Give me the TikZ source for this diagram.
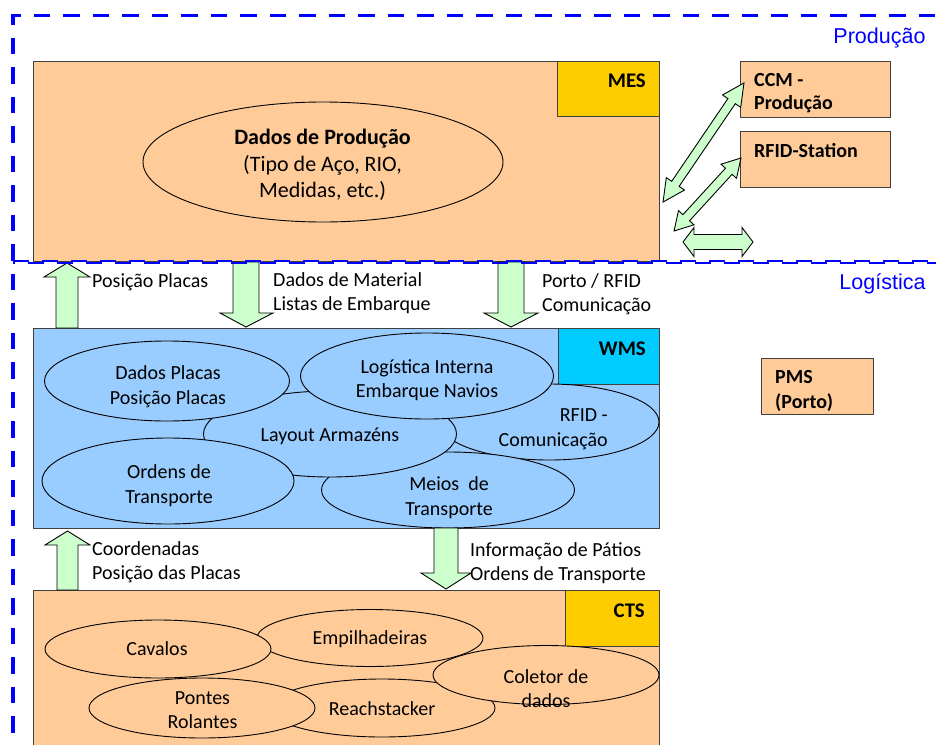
\documentclass[tikz,border=0pt]{standalone}
\usepackage{fontspec}
\setmainfont{Carlito}
\newfontfamily\arialf{Liberation Sans}
\usetikzlibrary{shapes.geometric}
\definecolor{peach}{HTML}{FFCC99}
\definecolor{gold}{HTML}{FFCC00}
\definecolor{wmsblue}{HTML}{99CCFF}
\definecolor{wmscyan}{HTML}{00CCFF}
\definecolor{arrowgreen}{HTML}{CCFFCC}
\definecolor{lineblue}{HTML}{0000FF}
\definecolor{boxline}{HTML}{404040}
\tikzset{
  sysbox/.style={draw=boxline, line width=1.3pt, rectangle, inner sep=0pt, anchor=north west},
  ell/.style={ellipse, draw=black, line width=0.9pt, inner sep=0pt},
  garrow/.style={draw=black, fill=arrowgreen, line width=0.9pt, line join=miter},
  lbl/.style={font=\fontsize{20}{24}\selectfont, inner sep=0pt, align=left, anchor=west},
  etxt/.style={font=\fontsize{20}{24.5}\selectfont, inner sep=0pt, align=center},
  sysname/.style={font=\bfseries\fontsize{20.8}{24}\selectfont, inner sep=0pt, anchor=east},
  extname/.style={font=\bfseries\fontsize{20}{22.5}\selectfont, inner sep=0pt, align=left, anchor=west},
  zone/.style={font=\arialf\fontsize{21.5}{24}\selectfont, text=lineblue, inner sep=0pt},
  pics/dbl/.style n args={4}{code={
    \draw[garrow] (-#1,0) -- ({-#1+#2},{-#3}) -- ({-#1+#2},{-#4}) -- ({#1-#2},{-#4})
      -- ({#1-#2},{-#3}) -- (#1,0) -- ({#1-#2},{#3}) -- ({#1-#2},{#4})
      -- ({-#1+#2},{#4}) -- ({-#1+#2},{#3}) -- cycle;
  }}
}
\begin{document}
\begin{tikzpicture}[x=1pt,y=-1pt]
\useasboundingbox (0,0) rectangle (936,744);
\clip (0,0) rectangle (936,744);

% ---------------- MES ----------------
\node[sysbox, fill=peach, minimum width=626, minimum height=200] (mes) at (33,61) {};
\node[sysbox, fill=gold, minimum width=102, minimum height=55] (meslbl) at (557,61) {};
\node[sysname] (mesname) at (646,81) {MES};
\node[ell, fill=peach, minimum width=360, minimum height=120] (dprod) at (323,162) {};
\node[font=\fontsize{22}{26.5}\selectfont, inner sep=0pt, align=center] (dprodtxt) at (322.5,165)
  {\textbf{Dados de Produção}\\(Tipo de Aço, RIO,\\Medidas, etc.)};

% external boxes
\node[sysbox, fill=peach, minimum width=150, minimum height=56] (ccm) at (740,61) {};
\node[extname] (ccmtxt) at (754,93) {CCM -\\Produção};
\node[sysbox, fill=peach, minimum width=150, minimum height=56] (rfidst) at (740,131) {};
\node[extname] (rfidsttxt) at (754,151) {RFID-Station};
\node[sysbox, fill=peach, minimum width=112, minimum height=56] (pms) at (761,358) {};
\node[extname, font=\bfseries\fontsize{20}{25}\selectfont] (pmstxt) at (775,391) {PMS\\(Porto)};

% double arrows to the right of MES
\pic[rotate=55.8] (da1) at (703.5,142.5) {dbl={72}{22}{11}{4.5}};
\pic[rotate=47.5] (da2) at (707.5,194.5) {dbl={49.5}{18}{10.5}{4.5}};
\pic (da3) at (718,242) {dbl={35}{11}{14.5}{7.5}};

% ---------------- WMS ----------------
\node[sysbox, fill=wmsblue, minimum width=626, minimum height=200] (wms) at (33,328) {};
\node[sysbox, fill=wmscyan, minimum width=101, minimum height=56] (wmslbl) at (558,328) {};
\node[sysname] (wmsname) at (646,349) {WMS};

\node[ell, fill=wmsblue, minimum width=220, minimum height=76] (e-rfid) at (549,422) {};
\node[ell, fill=wmsblue, minimum width=253, minimum height=76] (e-meios) at (448,490) {};
\node[ell, fill=wmsblue, minimum width=253, minimum height=86] (e-layout) at (330,434) {};
\node[ell, fill=wmsblue, minimum width=253, minimum height=86] (e-log) at (427,376) {};
\node[ell, fill=wmsblue, minimum width=245, minimum height=80] (e-dados) at (167,381) {};
\node[ell, fill=wmsblue, minimum width=252, minimum height=86] (e-ordens) at (168,481) {};

\node[etxt] (t-dados) at (168,386.5) {Dados Placas\\Posição Placas};
\node[etxt] (t-log) at (427,380) {Logística Interna\\Embarque Navios};
\node[etxt] (t-layout) at (330,436) {Layout Armazéns};
\node[etxt, align=right, anchor=east] (t-rfid) at (608,429.5) {RFID -\\Comunicação};
\node[etxt] (t-ordens) at (169,485.5) {Ordens de\\Transporte};
\node[etxt] (t-meios) at (449,497.5) {Meios~ de\\Transporte};

% ---------------- CTS ----------------
\node[sysbox, fill=peach, minimum width=626, minimum height=175] (cts) at (33,590) {};
\node[sysbox, fill=gold, minimum width=94, minimum height=56] (ctslbl) at (565,590) {};
\node[sysname] (ctsname) at (645,611) {CTS};

\node[ell, fill=peach, minimum width=226, minimum height=57] (c-emp) at (370,638) {};
\node[ell, fill=peach, minimum width=226, minimum height=58] (c-cav) at (158,649) {};
\node[ell, fill=peach, minimum width=226, minimum height=58] (c-reach) at (382,708) {};
\node[ell, fill=peach, minimum width=226, minimum height=60] (c-pontes) at (202,708) {};
\node[ell, fill=peach, minimum width=226, minimum height=59] (c-col) at (546,675) {};

\node[etxt] (t-cav) at (157,649) {Cavalos};
\node[etxt] (t-emp) at (370,639) {Empilhadeiras};
\node[etxt] (t-pontes) at (202.5,710) {Pontes\\Rolantes};
\node[etxt] (t-reach) at (382,709) {Reachstacker};
\node[etxt] (t-col) at (546,688.5) {Coletor de\\dados};

% ---------------- block arrows MES <-> WMS ----------------
\draw[garrow] (67,263) -- (90,277) -- (78,277) -- (78,328) -- (56,328) -- (56,277) -- (44,277) -- cycle;
\draw[garrow] (233,262) -- (259,262) -- (259,313) -- (273,313) -- (246,327) -- (220,313) -- (233,313) -- cycle;
\draw[garrow] (498,262) -- (524,262) -- (524,313) -- (538,313) -- (511,327) -- (484,313) -- (498,313) -- cycle;

\node[lbl] (l-pos) at (92,282) {Posição Placas};
\node[lbl] (l-dados) at (273,293) {Dados de Material\\Listas de Embarque};
\node[lbl] (l-porto) at (542,294.5) {Porto / RFID\\Comunicação};

% ---------------- block arrows WMS <-> CTS ----------------
\draw[garrow] (67.5,531) -- (90,545) -- (78,545) -- (78,590) -- (57,590) -- (57,545) -- (45,545) -- cycle;
\draw[garrow] (434,528) -- (458,528) -- (458,573) -- (471,573) -- (446,589) -- (421,573) -- (434,573) -- cycle;

\node[lbl] (l-coord) at (92,562) {Coordenadas\\Posição das Placas};
\node[lbl] (l-info) at (470,563) {Informação de Pátios\\Ordens de Transporte};

% ---------------- zone borders ----------------
\draw[lineblue, line width=3.3pt, dash pattern=on 16.5pt off 13pt, dash phase=28.5pt]
  (936,15.7) -- (13,15.7) -- (13,744);
\draw[lineblue, line width=2.4pt, dash pattern=on 16pt off 13pt] (13,260.8) -- (936,260.8);
\draw[lineblue, line width=2.4pt, dash pattern=on 16pt off 13pt, dash phase=14.5pt] (13,262.9) -- (936,262.9);

\node[zone] (z-prod) at (879.5,38) {Produção};
\node[zone] (z-log) at (882.5,284) {Logística};
\end{tikzpicture}
\end{document}
